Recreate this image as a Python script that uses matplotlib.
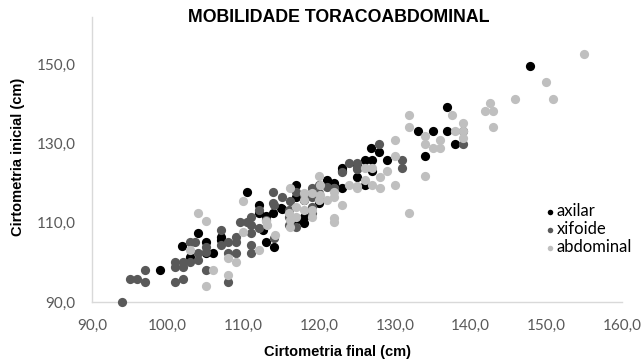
import matplotlib
matplotlib.use("Agg")
import matplotlib.pyplot as plt
from matplotlib.ticker import FuncFormatter

# cirtometria final (x) / inicial (y), cm
axilar_x = [99.0, 101.9, 103.0, 104.0, 105.0, 105.0, 106.0, 107.0, 107.0, 110.5,
            112.0, 112.0, 112.6, 113.0, 113.0, 113.9, 114.0, 114.9, 115.1, 117.0,
            117.0, 117.0, 118.0, 118.0, 118.0, 120.0, 120.0, 121.0, 122.0, 123.0,
            123.0, 123.0, 125.0, 125.0, 126.0, 126.0, 127.0, 127.0, 126.9, 127.9,
            129.0, 121.9, 133.0, 134.0, 135.0, 136.9, 136.9, 138.0, 147.9]
axilar_y = [98.1, 104.2, 101.3, 107.4, 105.2, 102.3, 102.3, 106.5, 105.7, 117.7,
            114.5, 112.4, 108.2, 111.7, 105.2, 112.4, 104.0, 113.7, 113.4, 119.6,
            116.6, 110.7, 115.8, 111.6, 109.9, 116.2, 114.9, 120.8, 120.0, 118.7,
            123.9, 123.0, 124.8, 121.7, 125.9, 119.6, 125.9, 123.0, 129.0, 128.0,
            125.9, 119.7, 133.1, 126.9, 133.1, 133.1, 139.3, 129.9, 149.6]

xifoide_x = [94.0, 95.0, 96.0, 97.0, 97.0, 101.0, 102.0, 101.0, 101.0, 102.0,
             102.0, 103.0, 104.0, 103.0, 103.6, 105.0, 105.0, 105.0, 104.0, 107.0,
             107.0, 108.0, 108.0, 109.0, 109.0, 109.0, 108.0, 109.5, 110.5, 111.0,
             111.0, 111.0, 111.0, 111.0, 112.0, 112.0, 113.0, 113.9, 113.9, 114.0,
             115.1, 114.0, 116.0, 116.0, 116.0, 116.1, 117.0, 117.0, 118.0, 119.0,
             119.0, 119.0, 119.0, 120.0, 120.0, 121.0, 122.0, 121.9, 124.0, 125.0,
             125.0, 123.0, 125.0, 127.9, 131.0, 131.0, 139.0, 139.0]
xifoide_y = [89.9, 95.9, 95.9, 98.1, 95.0, 95.0, 95.9, 100.2, 98.9, 100.2,
             98.9, 100.2, 100.6, 105.2, 105.2, 98.1, 104.0, 102.7, 102.3, 108.2,
             104.4, 105.2, 102.3, 106.5, 105.2, 102.3, 95.0, 110.3, 110.3, 111.6,
             109.5, 107.4, 104.4, 102.3, 113.3, 108.6, 110.7, 114.9, 117.9, 106.1,
             116.6, 114.5, 113.2, 111.6, 109.5, 115.4, 117.9, 109.0, 117.0, 118.7,
             116.6, 114.1, 112.4, 119.6, 117.5, 119.1, 118.7, 118.7, 125.0, 125.0,
             123.8, 122.9, 123.5, 129.9, 125.9, 123.8, 133.3, 129.9]

abdominal_x = [103.0, 104.0, 105.0, 105.0, 106.0, 108.0, 109.0, 108.0, 110.0, 110.0,
               112.0, 113.1, 114.2, 113.0, 116.0, 116.1, 116.1, 116.1, 117.0, 117.0,
               118.0, 118.0, 118.0, 119.0, 119.0, 119.0, 120.0, 120.0, 120.1, 120.1,
               121.0, 121.9, 121.9, 121.9, 123.0, 124.0, 125.0, 126.0, 127.0, 128.0,
               129.0, 126.0, 127.0, 128.0, 130.0, 125.0, 130.0, 130.0, 131.9, 131.9,
               131.9, 134.0, 134.0, 135.0, 136.0, 136.0, 134.0, 137.5, 139.0, 138.0,
               139.0, 139.0, 141.9, 142.5, 143.0, 143.0, 145.9, 150.0, 150.9, 155.0,
               122.0]
abdominal_y = [103.1, 112.6, 110.5, 94.0, 98.1, 101.0, 100.2, 96.8, 115.5, 107.8,
               103.1, 109.5, 107.0, 110.5, 112.4, 110.7, 109.0, 118.7, 114.1, 111.6,
               117.5, 115.8, 113.2, 117.5, 113.2, 111.6, 121.8, 115.8, 119.6, 117.0,
               115.8, 116.6, 111.1, 110.3, 114.5, 119.6, 119.3, 123.8, 123.8, 121.7,
               123.0, 120.8, 119.6, 118.7, 119.6, 118.7, 127.0, 130.9, 137.3, 134.1,
               112.6, 132.0, 129.9, 129.0, 130.9, 129.0, 121.8, 137.2, 135.2, 133.1,
               133.1, 131.5, 138.3, 140.4, 138.3, 134.1, 141.2, 145.5, 141.2, 152.6,
               117.9]

x_ticks = [90, 100, 110, 120, 130, 140, 150, 160]
y_ticks = [90, 110, 130, 150]

fig = plt.figure(figsize=(6.43, 3.62), dpi=100)
ax = fig.add_axes([0.1431, 0.1657, 0.8243, 0.7873])

ms = 44
ax.scatter(axilar_x, axilar_y, s=ms, color="#000000", linewidths=0, label="axilar", clip_on=False, zorder=3)
ax.scatter(xifoide_x, xifoide_y, s=ms, color="#595959", linewidths=0, label="xifoide", clip_on=False, zorder=3)
ax.scatter(abdominal_x, abdominal_y, s=ms, color="#bfbfbf", linewidths=0, label="abdominal", clip_on=False, zorder=3)

ax.set_xlim(90, 160)
ax.set_ylim(90, 162)
ax.set_xticks(x_ticks)
ax.set_yticks(y_ticks)
fmt = FuncFormatter(lambda v, p: ("%.1f" % v).replace(".", ","))
ax.xaxis.set_major_formatter(fmt)
ax.yaxis.set_major_formatter(fmt)
ax.tick_params(length=0, labelsize=11, labelcolor="#595959")
ax.tick_params(axis="x", pad=12)
ax.tick_params(axis="y", pad=12)
for lab in ax.get_xticklabels() + ax.get_yticklabels():
    lab.set_family("Lato")

for side in ["top", "right"]:
    ax.spines[side].set_visible(False)
for side in ["left", "bottom"]:
    ax.spines[side].set_color("#d9d9d9")
    ax.spines[side].set_linewidth(1)

fig.text(339 / 643, 1 - 18 / 362, "MOBILIDADE TORACOABDOMINAL", ha="center", va="center",
         fontsize=12.8, fontweight="bold", family="Liberation Sans")
fig.text(338 / 643, 1 - 352 / 362, "Cirtometria final (cm)", ha="center", va="center",
         fontsize=10.5, fontweight="bold", family="Liberation Sans")
fig.text(18 / 643, 1 - 157 / 362, "Cirtometria inicial (cm)", ha="center", va="center",
         rotation=90, fontsize=10.5, fontweight="bold", family="Liberation Sans")

leg = ax.legend(loc="center left", bbox_to_anchor=(543 / 643, 1 - 229 / 362),
                bbox_transform=fig.transFigure, frameon=False, markerscale=0.6,
                handletextpad=0.0, labelspacing=0.12, borderpad=0, handlelength=0.8,
                borderaxespad=0, prop={"family": "Lato", "size": 12})

fig.savefig("out.png", dpi=100)
